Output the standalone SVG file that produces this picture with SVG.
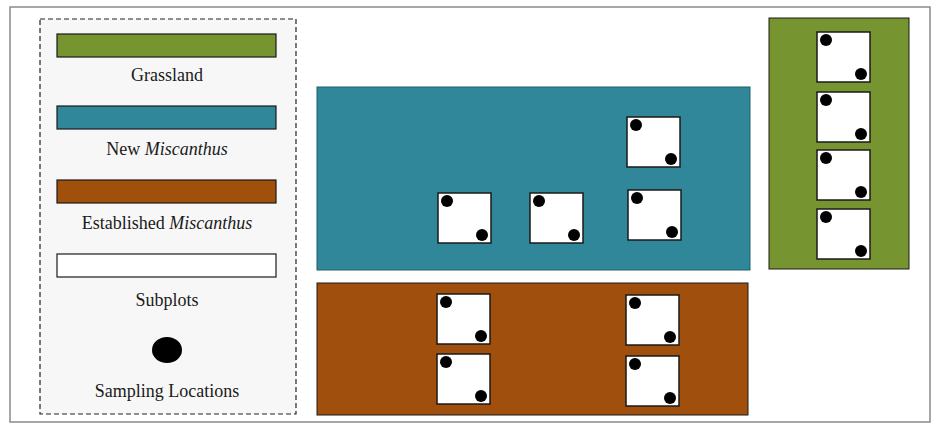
<svg xmlns="http://www.w3.org/2000/svg" width="935" height="425" viewBox="0 0 935 425">
<style>
.lbl{font-family:"Liberation Serif","Times New Roman",serif;font-size:18px;fill:#1a1a1a;text-anchor:middle}
.sub{fill:#ffffff;stroke:#1a1a1a;stroke-width:1.5}
.bar{stroke:#1a1a1a;stroke-width:1.2}
.dot{fill:#000}
</style>
<defs>
<g id="sp">
<rect class="sub" x="0" y="0" width="53" height="50"/>
<circle class="dot" cx="9" cy="8" r="6"/>
<circle class="dot" cx="44" cy="42" r="6"/>
</g>
</defs>
<rect x="0" y="0" width="935" height="425" fill="#ffffff"/>
<rect x="10" y="7" width="920" height="415" fill="#ffffff" stroke="#8a8a8a" stroke-width="1.5"/>
<g id="legend">
<rect x="40" y="19" width="256" height="395" fill="#f7f7f7" stroke="#222" stroke-width="1.2" stroke-dasharray="5,3"/>
<rect class="bar" x="57" y="34" width="219" height="23" fill="#76942f"/>
<text class="lbl" x="167" y="81">Grassland</text>
<rect class="bar" x="57" y="106" width="219" height="23" fill="#2f8799"/>
<text class="lbl" x="167" y="155">New <tspan font-style="italic">Miscanthus</tspan></text>
<rect class="bar" x="57" y="180" width="219" height="23" fill="#a04f0c"/>
<text class="lbl" x="167" y="229">Established <tspan font-style="italic">Miscanthus</tspan></text>
<rect class="bar" x="57" y="254" width="219" height="23" fill="#ffffff"/>
<text class="lbl" x="167" y="306">Subplots</text>
<ellipse cx="167" cy="350" rx="15" ry="13" fill="#000"/>
<text class="lbl" x="167" y="397">Sampling Locations</text>
</g>
<g id="new-miscanthus">
<rect x="317" y="87" width="433" height="183" fill="#2f8799" stroke="#1f5f6b" stroke-width="1"/>
<use href="#sp" x="438" y="193"/>
<use href="#sp" x="530" y="193"/>
<use href="#sp" x="627" y="117"/>
<use href="#sp" x="628" y="190"/>
</g>
<g id="established-miscanthus">
<rect x="317" y="283" width="431" height="132" fill="#a04f0c" stroke="#1a1a1a" stroke-width="1"/>
<use href="#sp" x="437" y="294"/>
<use href="#sp" x="437" y="354"/>
<use href="#sp" x="626" y="295"/>
<use href="#sp" x="626" y="356"/>
</g>
<g id="grassland">
<rect x="769" y="18" width="140" height="251" fill="#76942f" stroke="#1a1a1a" stroke-width="1"/>
<use href="#sp" x="817" y="32"/>
<use href="#sp" x="817" y="92"/>
<use href="#sp" x="817" y="150"/>
<use href="#sp" x="817" y="209"/>
</g>
<g id="connectors"></g>
</svg>
